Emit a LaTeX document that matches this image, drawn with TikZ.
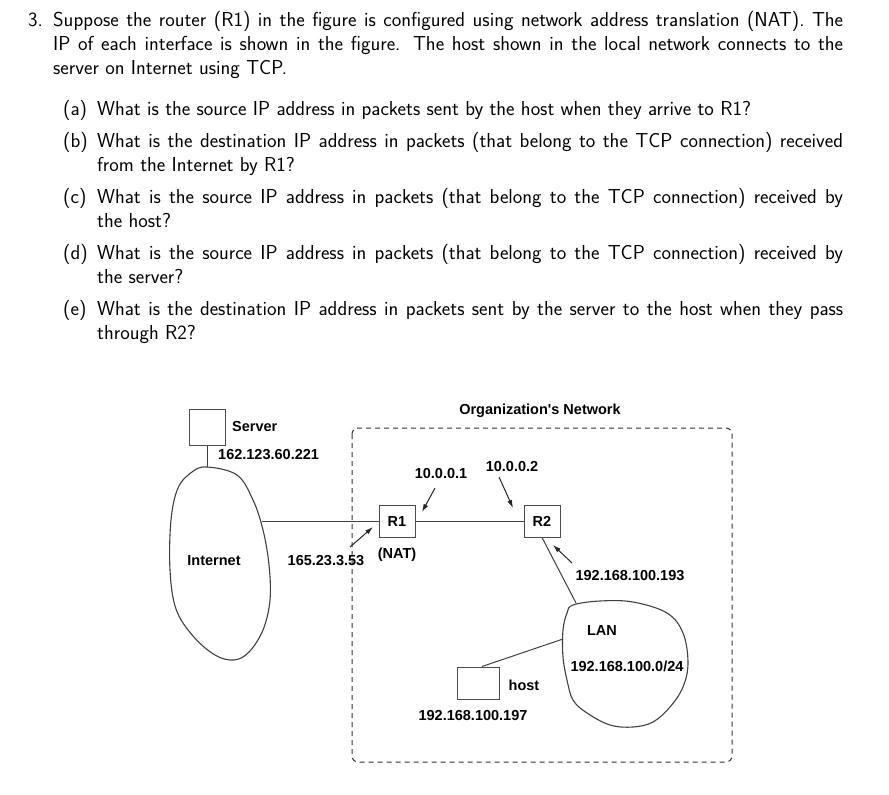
\documentclass[tikz,border=0pt]{standalone}
\usepackage{fontspec}
\newfontfamily\hv{Liberation Sans}
\usetikzlibrary{arrows.meta}
\tikzset{
  txt/.style={font=\sffamily\fontsize{20.2}{23.5}\selectfont, inner sep=0pt, anchor=base west},
  lbl/.style={font=\hv\bfseries\fontsize{14.5}{17}\selectfont, inner sep=0pt, text height=10.4pt, text depth=0pt},
  box/.style={draw=black!70, line width=1pt, inner sep=0pt},
  wire/.style={draw=black!75, line width=1pt},
  arr/.style={draw=black!85, line width=1pt, -{Latex[length=8pt,width=5pt]}},
  cloud/.style={draw=black!75, line width=1.1pt},
  orgbox/.style={draw=black!80, line width=1pt, dash pattern=on 5pt off 4pt, rounded corners=6pt},
}
\newcommand{\jline}[1]{\makebox[790pt][s]{#1}}
\newcommand{\iline}[1]{\makebox[746pt][s]{#1}}
\begin{document}
\begin{tikzpicture}[x=1pt,y=-1pt]
\useasboundingbox[fill=white] (0,0) rectangle (889,795);

% ---------- question text ----------
\node[txt] (num) at (28,27) {3.};
\node[txt] (p1) at (53,27) {\jline{Suppose the router (R1) in the figure is configured using network address translation (NAT). The}};
\node[txt] (p2) at (53,50.5) {\jline{IP of each interface is shown in the figure. The host shown in the local network connects to the}};
\node[txt] (p3) at (53,74) {server on Internet using TCP.};

\node[txt] (la) at (63,115) {(a)};
\node[txt] (qa) at (97,115) {What is the source IP address in packets sent by the host when they arrive to R1?};

\node[txt] (lb) at (63,147.5) {(b)};
\node[txt] (qb1) at (97,147.5) {\iline{What is the destination IP address in packets (that belong to the TCP connection) received}};
\node[txt] (qb2) at (97,171) {from the Internet by R1?};

\node[txt] (lc) at (63,203.5) {(c)};
\node[txt] (qc1) at (97,203.5) {\iline{What is the source IP address in packets (that belong to the TCP connection) received by}};
\node[txt] (qc2) at (97,227) {the host?};

\node[txt] (ld) at (63,259.5) {(d)};
\node[txt] (qd1) at (97,259.5) {\iline{What is the source IP address in packets (that belong to the TCP connection) received by}};
\node[txt] (qd2) at (97,283) {the server?};

\node[txt] (le) at (63,315.5) {(e)};
\node[txt] (qe1) at (97,315.5) {\iline{What is the destination IP address in packets sent by the server to the host when they pass}};
\node[txt] (qe2) at (97,339) {through R2?};

% ---------- organization box ----------
\draw[orgbox] (352,428) rectangle (732,762);
\node[lbl] (org) at (540,409) {Organization's Network};

% ---------- Internet cloud ----------
\draw[cloud] plot[smooth cycle, tension=0.6] coordinates {
  (207,467) (237,475) (253,500) (263,530) (269,565) (270,600) (263,630)
  (249,652) (234,660) (215,655) (193,636) (176,609) (170,570) (171,520)
  (178,488) (192,472)};
\coordinate (inettop) at (207,467);
\coordinate (inetright) at (262,521);
\node[lbl] (inet) at (214,560) {Internet};

% ---------- LAN cloud ----------
\draw[cloud] plot[smooth cycle, tension=0.6] coordinates {
  (573,605) (600,601) (633,602) (667,613) (683,633) (688,663) (683,687)
  (670,707) (653,722) (633,727) (610,725) (587,713) (573,700) (567,680)
  (563,657) (563,630) (567,613)};
\coordinate (lantop) at (576,603);
\coordinate (lanleft) at (563,639);
\node[lbl] (lan) at (602,630) {LAN};
\node[lbl] (lannet) at (627,666) {192.168.100.0/24};

% ---------- devices ----------
\node[box, minimum width=36pt, minimum height=36pt] (srv) at (207,427) {};
\node[lbl, anchor=west] (srvname) at (232,426) {Server};
\node[lbl, anchor=west] (srvip) at (218,454) {162.123.60.221};

\node[box, lbl, minimum width=36pt, minimum height=32pt] (r1) at (397,521) {R1};
\node[lbl] (nat) at (397,553) {(NAT)};
\node[box, lbl, minimum width=36pt, minimum height=32pt] (r2) at (542,521) {R2};

\node[box, minimum width=42pt, minimum height=32pt] (host) at (478,683) {};
\node[lbl] (hostname) at (524,685) {host};
\node[lbl] (hostip) at (473,715) {192.168.100.197};

% ---------- interface labels ----------
\node[lbl] (ipout) at (326,560) {165.23.3.53};
\node[lbl] (ip1) at (441,473) {10.0.0.1};
\node[lbl] (ip2) at (512,466) {10.0.0.2};
\node[lbl] (ip193) at (630,575) {192.168.100.193};

% ---------- wires ----------
\draw[wire] (srv.south) -- (inettop);
\draw[wire] (inetright) -- (r1.west);
\draw[wire] (r1.east) -- (r2.west);
\draw[wire] (r2.south) -- (lantop);
\draw[wire] (host.north) ++(4,0) coordinate (hosttop) -- (lanleft);

% ---------- arrows ----------
\coordinate (aout0) at (350,547); \coordinate (aout1) at (373,527);
\coordinate (a10) at (435,488);   \coordinate (a11) at (422,512);
\coordinate (a20) at (499,477);   \coordinate (a21) at (513,508);
\coordinate (a30) at (572,563);   \coordinate (a31) at (553,545);
\draw[arr] (aout0) -- (aout1);
\draw[arr] (a10) -- (a11);
\draw[arr] (a20) -- (a21);
\draw[arr] (a30) -- (a31);
\end{tikzpicture}
\end{document}
